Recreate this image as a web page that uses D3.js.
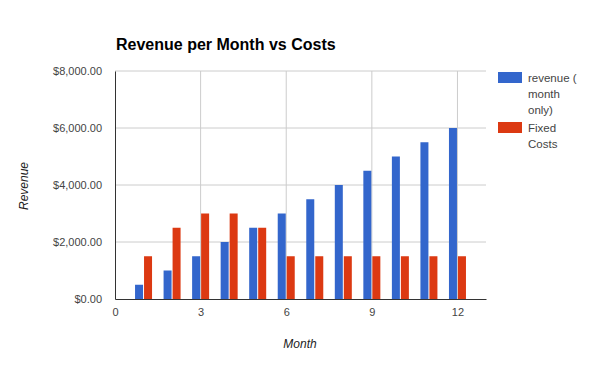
<!DOCTYPE html>
<html>
<head>
<meta charset="utf-8">
<script src="https://cdn.jsdelivr.net/npm/d3@7"></script>
<style>
body { margin: 0; background: #fff; }
svg { display: block; }
.tick text, .legend text { font-family: "Liberation Sans", Arial, sans-serif; font-size: 11px; fill: #444; }
.legend text { font-size: 11.5px; }
.title { font-family: "Liberation Sans", Arial, sans-serif; font-size: 16px; font-weight: bold; fill: #000; }
.axis-title { font-family: "Liberation Sans", Arial, sans-serif; font-size: 12px; font-style: italic; fill: #222; }
</style>
</head>
<body>
<svg id="chart" width="600" height="371"></svg>
<script>
var months = [1, 2, 3, 4, 5, 6, 7, 8, 9, 10, 11, 12];
var revenue = [500, 1000, 1500, 2000, 2500, 3000, 3500, 4000, 4500, 5000, 5500, 6000];
var fixedCosts = [1500, 2500, 3000, 3000, 2500, 1500, 1500, 1500, 1500, 1500, 1500, 1500];
var seriesNames = ['revenue ( month only)', 'Fixed Costs'];
var legendLines = [['revenue (', 'month', 'only)'], ['Fixed', 'Costs']];
var xTicks = [0, 3, 6, 9, 12];
var yTicks = [0, 2000, 4000, 6000, 8000];
var colors = ['#3366cc', '#dc3912'];

var svg = d3.select('#chart');
var xScale = d3.scaleLinear().domain([0, 13]).range([115, 486]);
var yScale = d3.scaleLinear().domain([0, 8000]).range([299, 71]);
var inner = d3.scaleBand().domain([0, 1]).range([-8.5, 8.5]).paddingInner(1 / 9);
var money = d3.format('$,.2f');

// gridlines
svg.append('g').selectAll('line').data(yTicks.slice(1)).enter().append('line')
  .attr('x1', xScale(0)).attr('x2', xScale(13))
  .attr('y1', function(d) { return yScale(d); }).attr('y2', function(d) { return yScale(d); })
  .attr('stroke', '#ccc');
svg.append('g').selectAll('line').data(xTicks.slice(1)).enter().append('line')
  .attr('x1', function(d) { return xScale(d); }).attr('x2', function(d) { return xScale(d); })
  .attr('y1', yScale(0)).attr('y2', yScale(8000))
  .attr('stroke', '#ccc');

// bars
var allSeries = [revenue, fixedCosts];
allSeries.forEach(function(values, index) {
  svg.append('g').selectAll('rect').data(months).enter().append('rect')
    .attr('x', function(d) { return xScale(d) + inner(index); })
    .attr('width', inner.bandwidth())
    .attr('y', function(d, i) { return yScale(values[i]); })
    .attr('height', function(d, i) { return yScale(0) - yScale(values[i]); })
    .attr('fill', colors[index]);
});

// axes
var xAxis = svg.append('g').attr('transform', 'translate(0, 299)')
  .call(d3.axisBottom(xScale).tickValues(xTicks).tickSize(0).tickPadding(9));
xAxis.select('.domain').attr('stroke', '#333');
var yAxis = svg.append('g').attr('transform', 'translate(115, 0)')
  .call(d3.axisLeft(yScale).tickValues(yTicks).tickFormat(money).tickSize(0).tickPadding(13));
yAxis.select('.domain').attr('stroke', '#333');
svg.selectAll('.tick text').attr('font-family', null).attr('font-size', null);

// titles
svg.append('text').attr('class', 'title').attr('x', 116).attr('y', 50).text('Revenue per Month vs Costs');
svg.append('text').attr('class', 'axis-title').attr('text-anchor', 'middle').attr('x', 300).attr('y', 348).text('Month');
svg.append('text').attr('class', 'axis-title').attr('text-anchor', 'middle')
  .attr('transform', 'translate(28, 186) rotate(-90)').text('Revenue');

// legend
var legend = svg.append('g').attr('class', 'legend');
var legendTops = [72, 122];
seriesNames.forEach(function(name, index) {
  legend.append('rect').attr('x', 498).attr('y', legendTops[index]).attr('width', 24).attr('height', 11).attr('fill', colors[index]);
  legendLines[index].forEach(function(line, j) {
    legend.append('text').attr('x', 528).attr('y', legendTops[index] + 9.5 + j * 16).text(line);
  });
});
</script>
</body>
</html>
